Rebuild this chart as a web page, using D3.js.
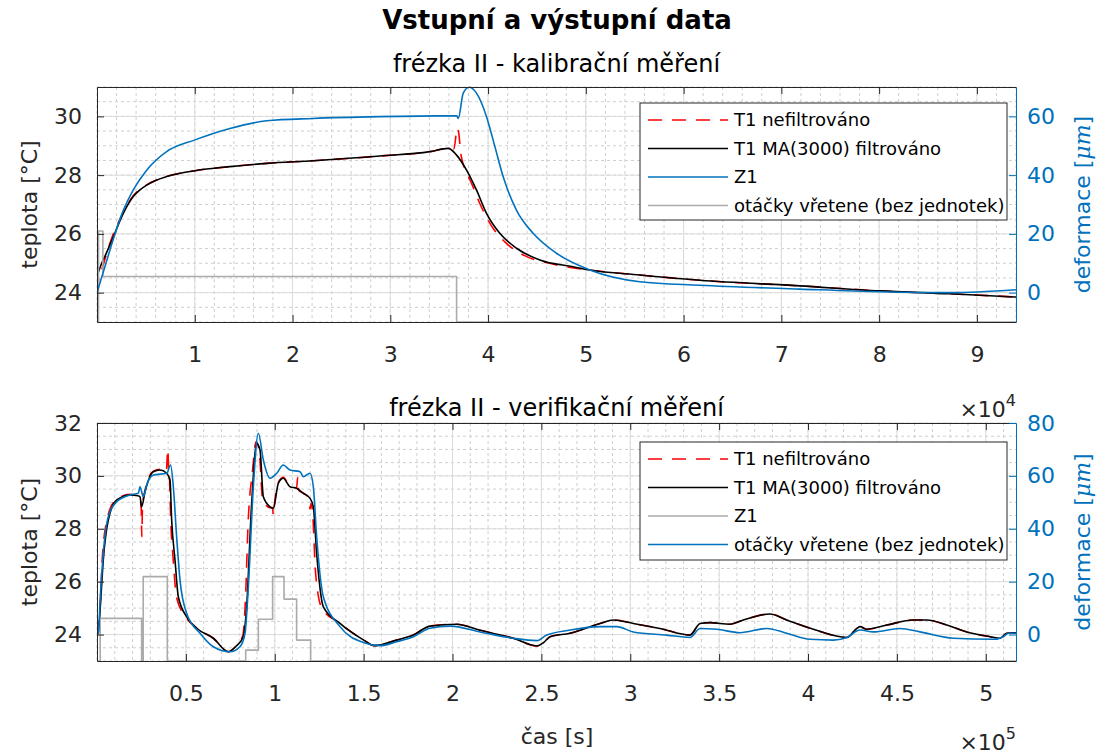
<!DOCTYPE html>
<html><head><meta charset="utf-8">
<script src="https://cdn.jsdelivr.net/npm/d3@7"></script>
<style>
html,body{margin:0;padding:0;background:#fff;}
svg{display:block;font-family:"DejaVu Sans",sans-serif;}
</style></head><body>
<svg id="chart" width="1108" height="755"></svg>
<script>
// ================= DATA =================
const mainTitle = "Vstupní a výstupní data";
const calTitle = "frézka II - kalibrační měření";
const verTitle = "frézka II - verifikační měření";
const xLabel = "čas [s]";
const yLeftLabel = "teplota [°C]";
const yRightLabel = ["deformace [", "μm", "]"];

const calLegend = ["T1 nefiltrováno", "T1 MA(3000) filtrováno", "Z1", "otáčky vřetene (bez jednotek)"];
const verLegend = ["T1 nefiltrováno", "T1 MA(3000) filtrováno", "Z1", "otáčky vřetene (bez jednotek)"];

// top panel ticks (time in s, axis multiplier 10^4)
const calXTicks = [10000, 20000, 30000, 40000, 50000, 60000, 70000, 80000, 90000];
const calXTickLabels = ["1", "2", "3", "4", "5", "6", "7", "8", "9"];
const calYLeftTicks = [24, 26, 28, 30];
const calYRightTicks = [0, 20, 40, 60];
// bottom panel ticks (time in s, axis multiplier 10^5)
const verXTicks = [50000, 100000, 150000, 200000, 250000, 300000, 350000, 400000, 450000, 500000];
const verXTickLabels = ["0.5", "1", "1.5", "2", "2.5", "3", "3.5", "4", "4.5", "5"];
const verYLeftTicks = [24, 26, 28, 30, 32];
const verYRightTicks = [0, 20, 40, 60, 80];

// ---- kalibrační měření ----
const calT1RawTime = [0, 150, 600, 1500, 2500, 3600, 5000, 7000, 10000, 13600, 17350, 22120, 28940, 34050, 35920, 36500, 36850, 37050, 37150, 37350, 37800, 38400, 39200, 40300, 41800, 43800, 46500, 50410, 55520, 61660, 71880, 80060, 87220, 94000];
const calT1Raw = [24.0, 24.4, 24.9, 25.85, 26.6, 27.25, 27.65, 27.94, 28.15, 28.29, 28.40, 28.49, 28.65, 28.80, 28.91, 28.88, 29.6, 29.3, 28.9, 28.5, 28.1, 27.65, 27.0, 26.3, 25.7, 25.25, 24.98, 24.77, 24.60, 24.42, 24.23, 24.06, 23.96, 23.85];

const calT1MATime = [0, 300, 900, 1670, 2690, 3710, 4300, 5080, 6000, 7120, 10020, 13600, 17350, 22120, 28940, 34050, 35920, 36780, 37800, 38820, 39840, 41200, 42910, 45300, 48700, 50410, 55520, 61660, 71880, 80060, 87220, 94000];
const calT1MA = [24.55, 24.85, 25.3, 25.90, 26.70, 27.27, 27.47, 27.66, 27.82, 27.95, 28.15, 28.29, 28.40, 28.49, 28.65, 28.80, 28.91, 28.68, 28.17, 27.49, 26.70, 26.02, 25.51, 25.11, 24.88, 24.77, 24.60, 24.42, 24.23, 24.06, 23.96, 23.85];

const calZ1Time = [0, 800, 1640, 2690, 3710, 5080, 7120, 10020, 13600, 17350, 22090, 28930, 33000, 36800, 36950, 37460, 38070, 38820, 39840, 40700, 41540, 42900, 44610, 47000, 50410, 55520, 61660, 71880, 80060, 87220, 94000];
const calZ1 = [0, 8.7, 17.9, 28, 35, 41.7, 48, 52, 55.9, 58.5, 59.3, 59.9, 60.1, 60.2, 59.3, 67.9, 69.9, 67.9, 59.9, 49.7, 39.5, 28.1, 20.2, 13.4, 7.7, 3.7, 2.5, 1.2, 0.3, 0.0, 1.0];

const calSpindleTime = [0, 150, 600, 36780, 94000];
const calSpindle = [23, 26.1, 24.55, 23, 23];

// ---- verifikační měření ----
const verT1RawTime = [0, 700, 1700, 3000, 5500, 10000, 18570, 23000, 24300, 24900, 25200, 25600, 27000, 31700, 35440, 39000, 39800, 40300, 40800, 41500, 42800, 44800, 50000, 56090, 65440, 73880, 78000, 82000, 83500, 85000, 87500, 89500, 91300, 93200, 97330, 98800, 99200, 99700, 102000, 104800, 108580, 112300, 112900, 113500, 116100, 119300, 119800, 120400, 121300, 123000, 126500, 136700, 149830, 156000, 168600, 177960, 187300, 202400, 215500, 234200, 247400, 251100, 254900, 266100, 283000, 290500, 301700, 316700, 333600, 339300, 344900, 356100, 363600, 378600, 388000, 403000, 421800, 427400, 429300, 433000, 444300, 459300, 466800, 478000, 489300, 502400, 508000, 511800, 517000];
const verT1Raw = [24.0, 24.3, 25.0, 26.9, 28.3, 29.05, 29.3, 29.27, 29.15, 28.7, 27.7, 28.9, 29.45, 30.18, 30.25, 30.15, 31.0, 30.3, 29.9, 28.3, 26.9, 25.4, 24.66, 24.24, 23.86, 23.35, 23.55, 23.95, 25.3, 28.2, 30.2, 31.3, 30.9, 29.1, 28.8, 28.8, 28.5, 28.85, 29.75, 29.95, 29.6, 29.55, 29.95, 29.45, 29.35, 29.15, 28.75, 28.95, 28.6, 26.3, 25.0, 24.42, 23.80, 23.58, 23.79, 23.98, 24.32, 24.39, 24.16, 23.86, 23.57, 23.69, 23.92, 24.05, 24.42, 24.55, 24.42, 24.23, 23.98, 24.42, 24.45, 24.39, 24.55, 24.78, 24.55, 24.20, 23.89, 24.23, 24.30, 24.20, 24.36, 24.55, 24.55, 24.36, 24.10, 23.92, 23.86, 24.05, 24.07];

const verT1MATime = [0, 730, 2000, 3540, 6350, 11080, 18570, 23000, 24190, 25100, 27000, 31700, 35440, 39200, 41070, 42000, 43880, 45750, 50460, 56090, 65440, 73880, 78000, 82310, 84190, 87000, 89830, 91700, 93580, 97330, 99200, 102000, 104800, 108580, 112300, 116100, 119840, 121700, 123570, 127330, 136700, 149830, 156000, 168600, 177960, 187300, 202400, 215500, 234200, 247400, 251100, 254900, 266100, 283000, 290500, 301700, 316700, 333600, 339300, 344900, 356100, 363600, 378600, 388000, 403000, 421800, 427400, 429300, 433000, 444300, 459300, 466800, 478000, 489300, 502400, 508000, 511800, 517000];
const verT1MA = [24.0, 24.05, 25.2, 26.82, 28.33, 29.09, 29.28, 29.25, 29.21, 28.83, 29.40, 30.16, 30.22, 30.10, 29.84, 28.33, 26.82, 25.43, 24.67, 24.24, 23.86, 23.35, 23.55, 23.92, 25.05, 28.96, 31.23, 30.98, 29.21, 28.83, 28.77, 29.72, 29.91, 29.59, 29.53, 29.34, 29.15, 28.83, 27.07, 25.05, 24.42, 23.80, 23.58, 23.79, 23.98, 24.32, 24.39, 24.16, 23.86, 23.57, 23.69, 23.92, 24.05, 24.42, 24.55, 24.42, 24.23, 23.98, 24.42, 24.45, 24.39, 24.55, 24.78, 24.55, 24.20, 23.89, 24.23, 24.30, 24.20, 24.36, 24.55, 24.55, 24.36, 24.10, 23.92, 23.86, 24.05, 24.07];

const verZ1Time = [0, 730, 2000, 3540, 6350, 11080, 18570, 23240, 24190, 26050, 27960, 31700, 39200, 41410, 42930, 44800, 46700, 50460, 57950, 65440, 74830, 80450, 83270, 85140, 87960, 90770, 93580, 97330, 101100, 104800, 108580, 114210, 116100, 119840, 121700, 123570, 127330, 136700, 149830, 159200, 168600, 177960, 187300, 198600, 215500, 234000, 247400, 253000, 266100, 283000, 292400, 301700, 320500, 333600, 339300, 348600, 361700, 376800, 388000, 401100, 414200, 421800, 429300, 436700, 451800, 463000, 481800, 504200, 509900, 512700, 517000];
const verZ1 = [0, 0.5, 16, 30.7, 44.6, 50.2, 52.8, 53.4, 55.9, 52.1, 56.6, 60.3, 61.0, 64.1, 55.9, 37.0, 20.6, 8.0, 0.5, -4.6, -6.5, -4.6, 0.5, 18.1, 55.9, 76.1, 66.0, 59.1, 61.0, 64.1, 62.2, 61.6, 59.7, 61.0, 55.9, 37.0, 14.3, 3.0, -3.0, -4.2, -2.7, -0.8, 2.4, 3.2, 1.0, -1.4, -2.3, -0.2, 1.7, 3.0, 3.0, 1.0, -0.2, -1.1, 2.3, 2.0, 0.7, 2.3, 0.5, -1.8, -2.1, -1.1, 1.7, 1.0, 2.3, 1.0, -1.4, -1.8, -0.8, 0.5, 0.5];

const verSpindleTime = [0, 1800, 25100, 26000, 39550, 83660, 90770, 98800, 105200, 112300, 120200, 517000];
const verSpindle = [23, 24.61, 23, 26.19, 23, 23.41, 24.58, 26.19, 25.34, 23.79, 23, 23];

// ================= DRAWING =================
const COL = {axis: "#262626", blue: "#0072BD", red: "#FF0000", black: "#000000", grey: "#ababab", grid: "#dcdcdc", minor: "#cfcfcf"};
const FS = 22;
const svg = d3.select("#chart");
const zip = (t, v) => t.map((x, i) => [x, v[i]]);

svg.append("text").attr("x", 557).attr("y", 29).attr("text-anchor", "middle")
  .attr("font-size", 26).attr("font-weight", "bold").attr("fill", "#000").text(mainTitle);

function panel(cfg) {
  const {x0, x1, y0, y1} = cfg;
  const x = d3.scaleLinear().domain(cfg.xDomain).range([x0, x1]);
  const yL = d3.scaleLinear().domain(cfg.yLDomain).range([y1, y0]);
  const yR = d3.scaleLinear().domain(cfg.yRDomain).range([y1, y0]);
  const g = svg.append("g");
  const clipId = "clip" + cfg.id;
  svg.append("clipPath").attr("id", clipId).append("rect")
    .attr("x", x0).attr("y", y0 - 1).attr("width", x1 - x0).attr("height", y1 - y0 + 2);

  // minor grid
  const mg = g.append("g").attr("stroke", COL.minor).attr("stroke-width", 1).attr("stroke-dasharray", "3,3");
  d3.range(cfg.xDomain[0], cfg.xDomain[1] + 1e-9, cfg.xMinor).forEach(v => {
    mg.append("line").attr("x1", x(v)).attr("x2", x(v)).attr("y1", y0).attr("y2", y1);
  });
  d3.range(cfg.yLDomain[0], cfg.yLDomain[1] + 1e-9, cfg.yMinor).forEach(v => {
    mg.append("line").attr("x1", x0).attr("x2", x1).attr("y1", yL(v)).attr("y2", yL(v));
  });
  // major grid
  const gg = g.append("g").attr("stroke", COL.grid).attr("stroke-width", 1);
  cfg.xTicks.forEach(v => gg.append("line").attr("x1", x(v)).attr("x2", x(v)).attr("y1", y0).attr("y2", y1));
  cfg.yLTicks.forEach(v => gg.append("line").attr("x1", x0).attr("x2", x1).attr("y1", yL(v)).attr("y2", yL(v)));

  // series
  const sg = g.append("g").attr("clip-path", `url(#${clipId})`).attr("fill", "none");
  cfg.series.forEach(s => {
    const ys = s.axis === "R" ? yR : yL;
    const line = d3.line().x(d => x(d[0])).y(d => ys(d[1]))
      .curve(s.step ? d3.curveStepAfter : d3.curveMonotoneX);
    sg.append("path").datum(s.data).attr("d", line)
      .attr("stroke", s.color).attr("stroke-width", s.width)
      .attr("stroke-dasharray", s.dash || null).attr("stroke-linejoin", "round");
  });

  // axes
  const styleAxis = (sel, color) => {
    sel.attr("font-family", "DejaVu Sans").attr("font-size", FS);
    sel.selectAll("path, line").attr("stroke", color).attr("stroke-width", 1);
    sel.selectAll("text").attr("fill", color);
  };
  const xb = g.append("g").attr("transform", `translate(0,${y1})`)
    .call(d3.axisBottom(x).tickValues(cfg.xTicks).tickFormat((d, i) => cfg.xLabels[i]).tickSize(-7).tickSizeOuter(0).tickPadding(24));
  styleAxis(xb, COL.axis);
  const xt = g.append("g").attr("transform", `translate(0,${y0})`)
    .call(d3.axisTop(x).tickValues(cfg.xTicks).tickFormat("").tickSize(-7).tickSizeOuter(0));
  styleAxis(xt, COL.axis);
  const yl = g.append("g").attr("transform", `translate(${x0},0)`)
    .call(d3.axisLeft(yL).tickValues(cfg.yLTicks).tickFormat(d3.format("d")).tickSize(-7).tickSizeOuter(0).tickPadding(15));
  styleAxis(yl, COL.axis);
  const yr = g.append("g").attr("transform", `translate(${x1},0)`)
    .call(d3.axisRight(yR).tickValues(cfg.yRTicks).tickFormat(d3.format("d")).tickSize(-7).tickSizeOuter(0).tickPadding(11));
  styleAxis(yr, COL.blue);

  // subtitle
  svg.append("text").attr("x", (x0 + x1) / 2).attr("y", cfg.subY).attr("text-anchor", "middle")
    .attr("font-size", 24).attr("fill", "#000").text(cfg.subtitle);
  // exponent
  const ex = svg.append("text").attr("x", x1).attr("y", cfg.expY).attr("text-anchor", "end")
    .attr("font-size", FS).attr("fill", COL.axis);
  ex.append("tspan").text("×10");
  ex.append("tspan").attr("dy", -11).attr("font-size", 16).text(cfg.exp);

  // y labels
  svg.append("text").attr("transform", `translate(37,${(y0 + y1) / 2}) rotate(-90)`).attr("text-anchor", "middle")
    .attr("font-size", FS).attr("fill", COL.axis).text(yLeftLabel);
  const rl = svg.append("text").attr("transform", `translate(1090,${(y0 + y1) / 2}) rotate(-90)`).attr("text-anchor", "middle")
    .attr("font-size", FS).attr("fill", COL.blue);
  rl.append("tspan").text(yRightLabel[0]);
  rl.append("tspan").attr("font-style", "italic").attr("font-family", "DejaVu Serif").text(yRightLabel[1]);
  rl.append("tspan").text(yRightLabel[2]);

  // legend
  const L = cfg.legend;
  const lg = svg.append("g");
  lg.append("rect").attr("x", L.x).attr("y", L.y).attr("width", L.w).attr("height", L.h)
    .attr("fill", "#fff").attr("stroke", COL.axis).attr("stroke-width", 1);
  L.items.forEach((it, i) => {
    const cy = L.y + 17 + i * 28.5;
    lg.append("line").attr("x1", L.x + 8).attr("x2", L.x + 88).attr("y1", cy).attr("y2", cy)
      .attr("stroke", it.color).attr("stroke-width", it.width).attr("stroke-dasharray", it.dash || null);
    lg.append("text").attr("x", L.x + 94).attr("y", cy + 6).attr("font-size", 18).attr("fill", "#000").text(it.label);
  });
}

const calData = {
  raw: zip(calT1RawTime, calT1Raw), ma: zip(calT1MATime, calT1MA),
  z1: zip(calZ1Time, calZ1), sp: zip(calSpindleTime, calSpindle)
};
panel({
  id: "cal", x0: 97, x1: 1016, y0: 87, y1: 322,
  xDomain: [0, 94000], yLDomain: [23, 31], yRDomain: [-10, 70],
  xTicks: calXTicks, xLabels: calXTickLabels, yLTicks: calYLeftTicks, yRTicks: calYRightTicks,
  xMinor: 2000, yMinor: 0.5,
  subtitle: calTitle, subY: 72, exp: "4", expY: 417,
  series: [
    {data: calData.raw, color: COL.red, width: 1.6, dash: "14,10"},
    {data: calData.ma, color: COL.black, width: 1.6},
    {data: calData.sp, color: COL.grey, width: 1.6, step: true},
    {data: calData.z1, color: COL.blue, width: 1.6, axis: "R"}
  ],
  legend: {x: 640, y: 103, w: 367, h: 117, items: [
    {label: calLegend[0], color: COL.red, width: 1.6, dash: "14,10"},
    {label: calLegend[1], color: COL.black, width: 1.6},
    {label: calLegend[2], color: COL.blue, width: 1.6},
    {label: calLegend[3], color: COL.grey, width: 1.6}
  ]}
});

const verData = {
  raw: zip(verT1RawTime, verT1Raw), ma: zip(verT1MATime, verT1MA),
  z1: zip(verZ1Time, verZ1), sp: zip(verSpindleTime, verSpindle)
};
panel({
  id: "ver", x0: 97, x1: 1016, y0: 423, y1: 661,
  xDomain: [0, 517000], yLDomain: [23, 32], yRDomain: [-10, 80],
  xTicks: verXTicks, xLabels: verXTickLabels, yLTicks: verYLeftTicks, yRTicks: verYRightTicks,
  xMinor: 10000, yMinor: 0.5,
  subtitle: verTitle, subY: 416, exp: "5", expY: 750,
  series: [
    {data: verData.raw, color: COL.red, width: 1.6, dash: "14,10"},
    {data: verData.ma, color: COL.black, width: 1.6},
    {data: verData.sp, color: COL.grey, width: 1.6, step: true},
    {data: verData.z1, color: COL.blue, width: 1.6, axis: "R"}
  ],
  legend: {x: 640, y: 442, w: 367, h: 118, items: [
    {label: verLegend[0], color: COL.red, width: 1.6, dash: "14,10"},
    {label: verLegend[1], color: COL.black, width: 1.6},
    {label: verLegend[2], color: COL.grey, width: 1.6},
    {label: verLegend[3], color: COL.blue, width: 1.6}
  ]}
});

svg.append("text").attr("x", 557).attr("y", 744).attr("text-anchor", "middle")
  .attr("font-size", FS).attr("fill", COL.axis).text(xLabel);
</script>
</body></html>
